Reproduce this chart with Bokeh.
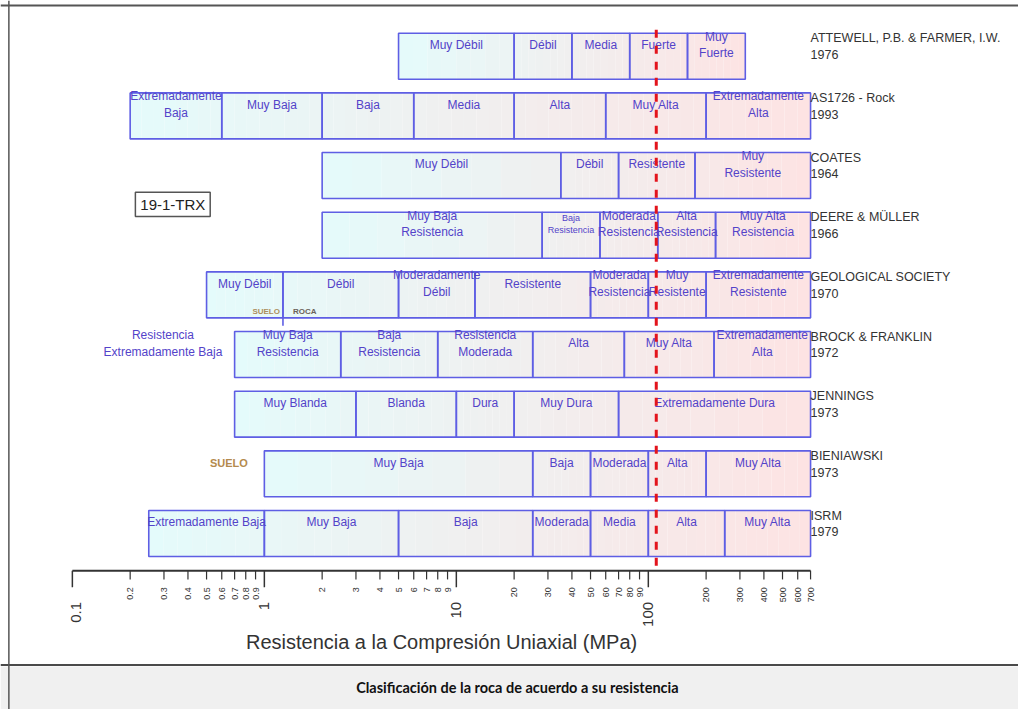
import math
from bokeh.plotting import figure
from bokeh.models import Range1d, LogScale, Span, BoxAnnotation, ColumnDataSource
from bokeh.core.properties import value
from bokeh.embed import file_html
from bokeh.resources import INLINE

# ---------------- data ----------------
SOURCES = [
    "ATTEWELL, P.B. & FARMER, I.W.\n1976",
    "AS1726 - Rock\n1993",
    "COATES\n1964",
    "DEERE & MÜLLER\n1966",
    "GEOLOGICAL SOCIETY\n1970",
    "BROCK & FRANKLIN\n1972",
    "JENNINGS\n1973",
    "BIENIAWSKI\n1973",
    "ISRM\n1979",
]

attewell_bounds = [5, 20, 40, 80, 160, 320]
attewell_labels = ["Muy Débil", "Débil", "Media", "Fuerte", "Muy\nFuerte"]

as1726_bounds = [0.2, 0.6, 2, 6, 20, 60, 200, 700]
as1726_labels = ["Extremadamente\nBaja", "Muy Baja", "Baja", "Media", "Alta", "Muy Alta",
                 "Extremadamente\nAlta"]

coates_bounds = [2, 35, 70, 175, 700]
coates_labels = ["Muy Débil", "Débil", "Resistente", "Muy\nResistente"]

deere_bounds = [2, 28, 56, 112, 224, 700]
deere_labels = ["Muy Baja\nResistencia", "Baja\nResistencia", "Moderada\nResistencia",
                "Alta\nResistencia", "Muy Alta\nResistencia"]

geol_bounds = [0.5, 1.25, 5, 12.5, 50, 100, 200, 700]
geol_labels = ["Muy Débil", "Débil", "Moderadamente\nDébil", "Resistente",
               "Moderada\nResistencia", "Muy\nResistente", "Extremadamente\nResistente"]

brock_bounds = [0.7, 2.5, 8, 25, 75, 220, 700]
brock_labels = ["Muy Baja\nResistencia", "Baja\nResistencia", "Resistencia\nModerada",
                "Alta", "Muy Alta", "Extremadamente\nAlta"]
brock_outside = "Resistencia\nExtremadamente Baja"

jennings_bounds = [0.7, 3, 10, 20, 70, 700]
jennings_labels = ["Muy Blanda", "Blanda", "Dura", "Muy Dura", "Extremadamente Dura"]

bieniawski_bounds = [1, 25, 50, 100, 200, 700]
bieniawski_labels = ["Muy Baja", "Baja", "Moderada", "Alta", "Muy Alta"]

isrm_bounds = [0.25, 1, 5, 25, 50, 100, 250, 700]
isrm_labels = ["Extremadamente Baja", "Muy Baja", "Baja", "Moderada", "Media", "Alta", "Muy Alta"]

ROWS = [
    (attewell_bounds, attewell_labels),
    (as1726_bounds, as1726_labels),
    (coates_bounds, coates_labels),
    (deere_bounds, deere_labels),
    (geol_bounds, geol_labels),
    (brock_bounds, brock_labels),
    (jennings_bounds, jennings_labels),
    (bieniawski_bounds, bieniawski_labels),
    (isrm_bounds, isrm_labels),
]

SAMPLE_VALUE = 110          # red dashed line (MPa)
SOIL_ROCK_LIMIT = 1.25      # SUELO | ROCA divider
SAMPLE_NAME = "19-1-TRX"

MAJOR_TICKS = [0.1, 1, 10, 100]
MINOR_TICKS = [0.2, 0.3, 0.4, 0.5, 0.6, 0.7, 0.8, 0.9,
               2, 3, 4, 5, 6, 7, 8, 9,
               20, 30, 40, 50, 60, 70, 80, 90,
               200, 300, 400, 500, 600, 700]
MAJOR_LABELS = ["0.1", "1", "10", "100"]
MINOR_LABELS = ["0.2", "0.3", "0.4", "0.5", "0.6", "0.7", "0.8", "0.9",
                "2", "3", "4", "5", "6", "7", "8", "9",
                "20", "30", "40", "50", "60", "70", "80", "90",
                "200", "300", "400", "500", "600", "700"]

X_TITLE = "Resistencia a la Compresión Uniaxial (MPa)"
CAPTION = "Clasificación de la roca de acuerdo a su resistencia"

# ---------------- layout / style ----------------
W, H = 1018, 709              # figure size (fits the window with the 8px margin)
REF_W, REF_H = 1034, 725      # layout coordinates below are in this frame
X0_PX, DEC_PX = 73.0, 195.0   # layout px of 0.1 MPa and px per decade


def xv(px):
    return 10 ** ((px - X0_PX) / DEC_PX - 1)


ROW_TOP0, ROW_PITCH, ROW_H = 33.5, 61.0, 47.0
AXIS_Y = 583
FONT = "Liberation Sans"
TXT_COL = "#5343c9"
BOX_COL = "#5e5ee4"
C_LEFT = (228, 251, 251)
C_RIGHT = (253, 227, 227)
SMALL_CELLS = {(3, 1): "9px"}

p = figure(width=W, height=H, output_backend="svg", toolbar_location=None,
           x_range=Range1d(xv(0), xv(REF_W)), y_range=Range1d(REF_H, 0),
           x_axis_type="log", y_axis_type="linear",
           x_axis_location=None, y_axis_location=None,
           min_border=0, background_fill_color="white", border_fill_color="white")
p.x_scale = LogScale()
p.outline_line_color = None
p.grid.visible = False


def mix(t):
    r = [round(a + (b - a) * t) for a, b in zip(C_LEFT, C_RIGHT)]
    return "#%02x%02x%02x" % tuple(r)


# caption band (under everything)
p.add_layout(BoxAnnotation(top=681, bottom=REF_H + 5, fill_color="#f0f0f0", fill_alpha=1,
                           line_color=None, level="underlay"))

# gradient fills
g = dict(l=[], r=[], t=[], b=[], c=[])
cells = dict(l=[], r=[], t=[], b=[])
txt = dict(x=[], y=[], s=[], fs=[])
NSUB = 8
for i, (bounds, labels) in enumerate(ROWS):
    top = ROW_TOP0 + ROW_PITCH * i
    bot = top + ROW_H
    lo, hi = math.log10(bounds[0]), math.log10(bounds[-1])
    for j in range(len(bounds) - 1):
        a, b = math.log10(bounds[j]), math.log10(bounds[j + 1])
        for k in range(NSUB):
            s0 = a + (b - a) * k / NSUB
            s1 = a + (b - a) * (k + 1) / NSUB
            g["l"].append(10 ** s0); g["r"].append(10 ** s1)
            g["t"].append(top); g["b"].append(bot)
            g["c"].append(mix(((s0 + s1) / 2 - lo) / (hi - lo)))
        cells["l"].append(bounds[j]); cells["r"].append(bounds[j + 1])
        cells["t"].append(top); cells["b"].append(bot)
        txt["x"].append(10 ** ((a + b) / 2)); txt["y"].append(top + 12)
        txt["s"].append(labels[j]); txt["fs"].append(SMALL_CELLS.get((i, j), "12px"))

p.quad(left="l", right="r", top="t", bottom="b", fill_color="c", line_color=None,
       source=ColumnDataSource(g))
p.quad(left="l", right="r", top="t", bottom="b", fill_color=None, line_color=BOX_COL,
       line_width=1.6, source=ColumnDataSource(cells))
p.text(x="x", y="y", text="s", text_font_size="fs", text_font=value(FONT),
       text_color=TXT_COL, text_align="center", text_baseline="middle",
       source=ColumnDataSource(txt))

# source names
max_v = max(b[-1] for b, _ in ROWS)
p.text(x=[max_v] * len(SOURCES), y=[ROW_TOP0 + ROW_PITCH * i - 2 for i in range(len(SOURCES))],
       text=SOURCES, text_font=value(FONT), text_font_size="12.5px", text_color="#333333",
       text_align="left", text_baseline="top")

# extra annotations
brock_top = ROW_TOP0 + ROW_PITCH * 5
p.text(x=[xv(165)], y=[brock_top + 12], text=[brock_outside], text_font=value(FONT),
       text_font_size="12px", text_color=TXT_COL, text_align="center", text_baseline="middle")
bien_top = ROW_TOP0 + ROW_PITCH * 7
p.text(x=[xv(232)], y=[bien_top + 12], text=["SUELO"], text_font=value(FONT),
       text_font_size="11px", text_font_style="bold", text_color="#b48a4e",
       text_align="center", text_baseline="middle")
geo_bot = ROW_TOP0 + ROW_PITCH * 4 + ROW_H
p.segment(x0=[SOIL_ROCK_LIMIT], x1=[SOIL_ROCK_LIMIT], y0=[geo_bot], y1=[geo_bot + 8],
          line_color=BOX_COL, line_width=1.6)
p.text(x=[SOIL_ROCK_LIMIT, SOIL_ROCK_LIMIT], y=[geo_bot - 6, geo_bot - 6],
       text=["SUELO", "ROCA"], x_offset=[-3, 10], text_font=value(FONT),
       text_font_size="8px", text_font_style="bold", text_color=["#ad8f5c", "#6b6259"],
       text_align=["right", "left"], text_baseline="middle")

# sample box
p.quad(left=[xv(137)], right=[xv(213)], top=[196], bottom=[221], fill_color="white",
       line_color="#555555", line_width=1.5)
p.text(x=[xv(175)], y=[208.5], text=[SAMPLE_NAME], text_font=value(FONT),
       text_font_size="15px", text_color="#222222", text_align="center", text_baseline="middle")

# custom axis
p.segment(x0=[MAJOR_TICKS[0]], x1=[MINOR_TICKS[-1]], y0=[AXIS_Y], y1=[AXIS_Y],
          line_color="#333333", line_width=2)
p.segment(x0=MAJOR_TICKS, x1=MAJOR_TICKS, y0=[AXIS_Y] * 4, y1=[AXIS_Y + 17] * 4,
          line_color="#333333", line_width=1.5)
p.segment(x0=MINOR_TICKS, x1=MINOR_TICKS, y0=[AXIS_Y] * len(MINOR_TICKS),
          y1=[AXIS_Y + 9] * len(MINOR_TICKS), line_color="#333333", line_width=1.2)
p.text(x=MINOR_TICKS, y=[AXIS_Y + 17] * len(MINOR_TICKS), text=MINOR_LABELS,
       angle=math.pi / 2, text_font=value(FONT), text_font_size="9px", text_color="#333333",
       text_align="right", text_baseline="middle")
p.text(x=MAJOR_TICKS, y=[AXIS_Y + 32] * 4, text=MAJOR_LABELS, angle=math.pi / 2,
       x_offset=[4, 0, 0, 0],
       text_font=value(FONT), text_font_size="15px", text_color="#333333",
       text_align="right", text_baseline="middle")
p.text(x=[xv(448)], y=[656], text=[X_TITLE], text_font=value(FONT), text_font_size="20px",
       text_color="#333333", text_align="center", text_baseline="middle")

# sample line
p.segment(x0=[SAMPLE_VALUE], x1=[SAMPLE_VALUE], y0=[30], y1=[AXIS_Y + 2],
          line_color="#e3141c", line_width=3, line_dash="8 8")

# frame lines
p.add_layout(Span(location=679.5, dimension="width", line_color="#4a4a4a", line_width=2))
p.add_layout(Span(location=5, dimension="width", line_color="#555555", line_width=2))
p.add_layout(Span(location=xv(8.5), dimension="height", line_color="#555555", line_width=1.5))
p.text(x=[xv(525)], y=[703], text=[CAPTION], text_font=value("Lato"), text_font_size="14.5px",
       text_font_style="bold", text_color="#111111", text_align="center", text_baseline="middle")

open("out.html", "w").write(file_html(p, INLINE))
